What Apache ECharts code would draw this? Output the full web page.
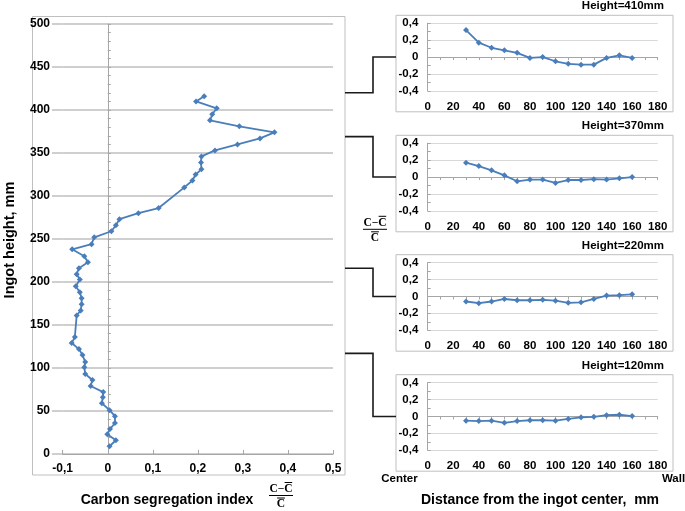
<!DOCTYPE html>
<html><head><meta charset="utf-8">
<script src="https://cdn.jsdelivr.net/npm/echarts@6/dist/echarts.min.js"></script>
<style>html,body{margin:0;padding:0;background:#fff}#c{width:685px;height:511px}</style>
</head><body><div id="c"></div>
<script>
// ---- data ----
const heightMm = [416,410,402,395,388,381,374,367,360,353,346,339,331,325,318,310,286,280,273,266,259,252,244,238,230,223,216,209,203,195,188,181,174,167,161,136,129,122,115,107,101,93,86,79,72,66,59,51,44,36,29,23,16,9];
const segIndex = [0.214,0.196,0.242,0.232,0.227,0.292,0.370,0.338,0.288,0.238,0.208,0.207,0.208,0.195,0.188,0.170,0.113,0.068,0.026,0.018,0.008,-0.030,-0.036,-0.079,-0.052,-0.044,-0.064,-0.069,-0.062,-0.071,-0.062,-0.058,-0.058,-0.060,-0.069,-0.073,-0.080,-0.064,-0.056,-0.050,-0.052,-0.050,-0.034,-0.038,-0.010,-0.011,-0.013,0.004,0.016,0.016,0.005,-0.001,0.018,0.004];
const distances = [30,40,50,60,70,80,90,100,110,120,130,140,150,160];
const profile410 = [0.32,0.17,0.11,0.08,0.05,-0.01,0.0,-0.05,-0.08,-0.09,-0.09,-0.01,0.02,-0.01];
const profile370 = [0.17,0.13,0.08,0.02,-0.05,-0.03,-0.03,-0.07,-0.035,-0.035,-0.025,-0.03,-0.015,0.0];
const profile220 = [-0.06,-0.08,-0.06,-0.03,-0.045,-0.045,-0.04,-0.05,-0.075,-0.07,-0.03,0.01,0.015,0.025];
const profile120 = [-0.05,-0.055,-0.05,-0.075,-0.055,-0.045,-0.045,-0.05,-0.03,-0.01,-0.005,0.015,0.02,0.005];
const profiles = [profile410, profile370, profile220, profile120];
const profileTitles = ['Height=410mm','Height=370mm','Height=220mm','Height=120mm'];
const anchorHeights = [420, 369, 216, 117];
const mainYTitle = 'Ingot height, mm';
const mainXTitle = 'Carbon segregation index';
const smallXTitle = 'Distance from the ingot center,  mm';

// ---- layout ----
const BLUE = '#4a7ebb';
const FONT = '"Liberation Sans", Arial, sans-serif';
const smallTops = [23.3, 143.3, 262.7, 382.7];
const SMALL_H = 67.5, SMALL_L = 427.7, SMALL_W = 230;
const fmt = v => String(Math.round(v * 100) / 100).replace('.', ',');

const chart = echarts.init(document.getElementById('c'), null, {renderer: 'canvas'});

const grids = [
  {left: 62.7, top: 24, width: 270.3, height: 430},
  {left: 52, top: 24, width: 10.7, height: 430}
];
smallTops.forEach(t => grids.push({left: SMALL_L, top: t, width: SMALL_W, height: SMALL_H}));

const xAxes = [
  {gridIndex: 0, type: 'value', min: -0.1, max: 0.5, interval: 0.1,
   axisLine: {show: true, onZero: false, lineStyle: {color: '#a6a6a6', width: 1}},
   axisTick: {show: true, inside: true, length: 4, lineStyle: {color: '#a6a6a6'}},
   axisLabel: {fontFamily: FONT, fontWeight: 'bold', fontSize: 12, color: '#000', margin: 9, formatter: fmt},
   splitLine: {show: false}},
  {gridIndex: 1, type: 'value', min: 0, max: 1, show: false}
];
const yAxes = [
  {gridIndex: 0, type: 'value', min: 0, max: 500, interval: 50,
   axisLine: {show: false, onZero: false}, axisTick: {show: false},
   axisLabel: {fontFamily: FONT, fontWeight: 'bold', fontSize: 12, color: '#000', margin: 12.7},
   splitLine: {show: true, lineStyle: {color: '#bfbfbf', width: 1.5}}},
  {gridIndex: 0, type: 'value', min: 0, max: 500, interval: 50, position: 'left',
   axisLine: {show: true, onZero: true, lineStyle: {color: '#a6a6a6', width: 1}},
   axisTick: {show: true, inside: true, length: 3, lineStyle: {color: '#a6a6a6'}},
   minorTick: {show: true, splitNumber: 5, length: 3, lineStyle: {color: '#a6a6a6'}},
   axisLabel: {show: false}, splitLine: {show: false}},
  {gridIndex: 1, type: 'value', min: 0, max: 500, interval: 50,
   axisLine: {show: false}, axisTick: {show: false}, axisLabel: {show: false},
   splitLine: {show: true, lineStyle: {color: '#bfbfbf', width: 1.5}}}
];
const series = [{
  type: 'line', xAxisIndex: 0, yAxisIndex: 0,
  data: segIndex.map((v, i) => [v, heightMm[i]]),
  symbol: 'diamond', symbolSize: 6, showSymbol: true,
  lineStyle: {color: BLUE, width: 1.8}, itemStyle: {color: BLUE}, z: 5
}];
smallTops.forEach((t, i) => {
  const g = 2 + i;
  xAxes.push({gridIndex: g, type: 'value', min: 0, max: 180, interval: 20, position: 'bottom',
    axisLine: {show: false, onZero: false}, axisTick: {show: false},
    axisLabel: {fontFamily: FONT, fontWeight: 'bold', fontSize: 11.5, color: '#000', margin: 10},
    splitLine: {show: false}});
  yAxes.push({gridIndex: g, type: 'value', min: -0.4, max: 0.4, interval: 0.2,
    axisLine: {show: true, lineStyle: {color: '#a6a6a6'}},
    axisTick: {show: true, inside: true, length: 3, lineStyle: {color: '#a6a6a6'}},
    minorTick: {show: true, splitNumber: 2, length: 3, lineStyle: {color: '#a6a6a6'}},
    axisLabel: {fontFamily: FONT, fontWeight: 'bold', fontSize: 11.5, color: '#000', margin: 9.4, formatter: fmt},
    splitLine: {show: true, lineStyle: {color: '#d9d9d9', width: 1}}});
});
smallTops.forEach((t, i) => {
  const g = 2 + i;
  xAxes.push({gridIndex: g, type: 'value', min: 0, max: 180, interval: 10, position: 'top',
    axisLine: {show: true, onZero: true, lineStyle: {color: '#a6a6a6'}},
    axisTick: {show: true, inside: true, length: 3, lineStyle: {color: '#a6a6a6'}},
    axisLabel: {show: false}, splitLine: {show: false}});
  series.push({
    type: 'line', xAxisIndex: 2 + i, yAxisIndex: 3 + i,
    data: distances.map((d, k) => [d, profiles[i][k]]),
    symbol: 'diamond', symbolSize: 6, showSymbol: true,
    lineStyle: {color: BLUE, width: 1.8}, itemStyle: {color: BLUE}, z: 5
  });
});

chart.setOption({animation: false, grid: grids, xAxis: xAxes, yAxis: yAxes, series: series});

// ---- decorations ----
function txt(text, x, y, size, align) {
  return {type: 'text', z: 10, style: {text: text, x: x, y: y,
    font: 'bold ' + size + 'px ' + FONT, fill: '#000', align: align || 'center', verticalAlign: 'middle'}};
}
function line(x1, y1, x2, y2, w, c) {
  return {type: 'line', z: 10, shape: {x1: x1, y1: y1, x2: x2, y2: y2}, style: {stroke: c || '#000', lineWidth: w || 1}};
}
function fraction(cx, barY) {
  const f = 'bold 11.5px "Liberation Serif", "DejaVu Serif", serif';
  return [
    {type: 'text', z: 10, style: {text: 'C\u2212C', x: cx, y: barY - 6.5, font: f, fill: '#000', align: 'center', verticalAlign: 'middle'}},
    line(cx + 3.6, barY - 13, cx + 11.2, barY - 13, 1),
    line(cx - 12, barY, cx + 12, barY, 1),
    line(cx - 3.9, barY + 2.5, cx + 3.9, barY + 2.5, 1),
    {type: 'text', z: 10, style: {text: 'C', x: cx, y: barY + 9, font: f, fill: '#000', align: 'center', verticalAlign: 'middle'}}
  ];
}
const els = [];
els.push({type: 'rect', z: 0, shape: {x: 32.5, y: 16.5, width: 312.5, height: 458.5}, style: {fill: 'none', stroke: '#bfbfbf', lineWidth: 1}});
smallTops.forEach((t, i) => {
  els.push({type: 'rect', z: 0, shape: {x: 396, y: t - 8, width: 277, height: 96.5}, style: {fill: 'none', stroke: '#bfbfbf', lineWidth: 1}});
  els.push(txt(profileTitles[i], 664, t - 17, 11.5, 'right'));
  const y1 = chart.convertToPixel({gridIndex: 0}, [0, anchorHeights[i]])[1];
  const y2 = chart.convertToPixel({gridIndex: 2 + i}, [0, 0])[1];
  els.push({type: 'polyline', z: 10, shape: {points: [[345, y1], [373, y1], [373, y2], [396, y2]]}, style: {stroke: '#1a1a1a', lineWidth: 1.6, fill: null}});
});
els.push({type: 'text', z: 10, x: 10, y: 240, rotation: Math.PI / 2,
  style: {text: mainYTitle, x: 0, y: 0, font: 'bold 14.5px ' + FONT, fill: '#000', align: 'center', verticalAlign: 'middle'}});
els.push(txt(mainXTitle, 167, 500.5, 14, 'center'));
els.push(txt(smallXTitle, 540, 500.5, 14, 'center'));
els.push(txt('Center', 399.5, 479, 11.5, 'center'));
els.push(txt('Wall', 673.5, 479, 11.5, 'center'));
fraction(281, 495.5).forEach(e => els.push(e));
fraction(375, 229.3).forEach(e => els.push(e));

chart.setOption({graphic: {elements: els}});
</script></body></html>
